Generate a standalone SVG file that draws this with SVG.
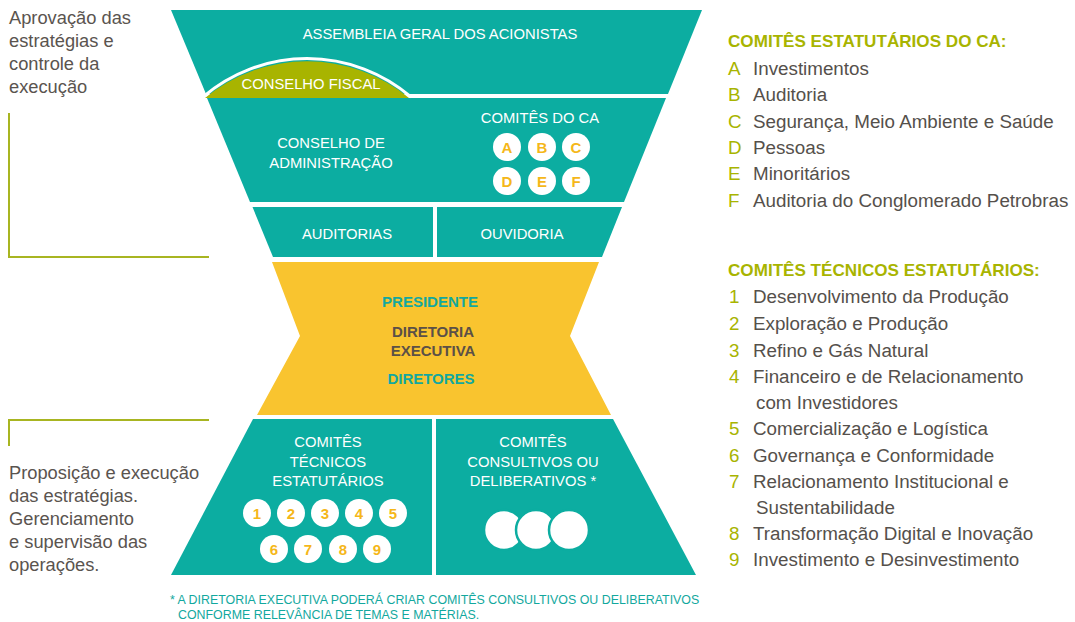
<svg xmlns="http://www.w3.org/2000/svg" width="1075" height="622" viewBox="0 0 1075 622">
<style>
text{font-family:"Liberation Sans",Arial,sans-serif;}
.sec{fill:#0cada1;}
.lbl{fill:#ffffff;font-size:14.8px;text-anchor:middle;}
.ybold{font-weight:bold;font-size:15px;text-anchor:middle;}
.chip{fill:#ffffff;}
.chipt{fill:#f5b719;font-weight:bold;font-size:15px;text-anchor:middle;}
.side{fill:#5a544f;font-size:18.3px;}
.hdr{fill:#a8b400;font-weight:bold;font-size:17.1px;}
.key{fill:#a8b400;font-size:18.8px;}
.item{fill:#55504b;font-size:18.8px;}
.br{fill:none;stroke:#a8b521;stroke-width:2;}
.big{fill:#ffffff;stroke:#0cada1;stroke-width:2.5;}
</style>
<g id="side-notes">
<text class="side" x="9" y="24">Aprovação das</text>
<text class="side" x="9" y="47">estratégias e</text>
<text class="side" x="9" y="70">controle da</text>
<text class="side" x="9" y="93">execução</text>
<text class="side" x="9" y="479">Proposição e execução</text>
<text class="side" x="9" y="502">das estratégias.</text>
<text class="side" x="9" y="525">Gerenciamento</text>
<text class="side" x="9" y="548">e supervisão das</text>
<text class="side" x="9" y="571">operações.</text>
</g>
<g id="connectors">
<polyline class="br" points="9,113 9,257 209,257"/>
<polyline class="br" points="209,420 9,420 9,446"/>
</g>
<g id="assembleia">
<polygon class="sec" points="171,10 702,10 668,94 206,94"/>
<text class="lbl" x="440" y="39">ASSEMBLEIA GERAL DOS ACIONISTAS</text>
</g>
<g id="conselho-administracao">
<polygon class="sec" points="207,98 666,98 624,202 250,202"/>
<text class="lbl" x="331" y="148">CONSELHO DE</text>
<text class="lbl" x="331" y="168">ADMINISTRAÇÃO</text>
</g>
<g id="conselho-fiscal">
<path d="M205,98 A160,160 0 0 1 409,98 Z" fill="#a8b400"/>
<path d="M203,97 A160,160 0 0 1 411,97" fill="none" stroke="#ffffff" stroke-width="3"/>
<text class="lbl" x="311" y="89">CONSELHO FISCAL</text>
</g>
<g id="comites-ca">
<text class="lbl" x="540" y="123">COMITÊS DO CA</text>
<circle class="chip" cx="507" cy="147" r="14"/><text class="chipt" x="507" y="152.5">A</text>
<circle class="chip" cx="542" cy="147" r="14"/><text class="chipt" x="542" y="152.5">B</text>
<circle class="chip" cx="576" cy="147" r="14"/><text class="chipt" x="576" y="152.5">C</text>
<circle class="chip" cx="507" cy="181" r="14"/><text class="chipt" x="507" y="186.5">D</text>
<circle class="chip" cx="542" cy="181" r="14"/><text class="chipt" x="542" y="186.5">E</text>
<circle class="chip" cx="576" cy="181" r="14"/><text class="chipt" x="576" y="186.5">F</text>
</g>
<g id="auditorias">
<polygon class="sec" points="252.5,207 433,207 433,257 273,257"/>
<text class="lbl" x="347" y="239">AUDITORIAS</text>
</g>
<g id="ouvidoria">
<polygon class="sec" points="437,207 622,207 602,257 437,257"/>
<text class="lbl" x="522" y="239">OUVIDORIA</text>
</g>
<g id="diretoria-executiva">
<polygon fill="#f9c42f" points="272,262 599,262 570,336 611,415 257,415 300,336"/>
<text class="ybold" x="430" y="307" fill="#13a89e">PRESIDENTE</text>
<text class="ybold" x="433" y="337" fill="#5b5047">DIRETORIA</text>
<text class="ybold" x="433" y="356" fill="#5b5047">EXECUTIVA</text>
<text class="ybold" x="431" y="384" fill="#13a89e">DIRETORES</text>
</g>
<g id="comites-tecnicos">
<polygon class="sec" points="253,419 432,419 432,575 171,575"/>
<text class="lbl" x="328" y="447">COMITÊS</text>
<text class="lbl" x="328" y="467">TÉCNICOS</text>
<text class="lbl" x="328" y="486">ESTATUTÁRIOS</text>
<circle class="chip" cx="257" cy="513" r="14"/><text class="chipt" x="257" y="518.5">1</text>
<circle class="chip" cx="291" cy="513" r="14"/><text class="chipt" x="291" y="518.5">2</text>
<circle class="chip" cx="325" cy="513" r="14"/><text class="chipt" x="325" y="518.5">3</text>
<circle class="chip" cx="359" cy="513" r="14"/><text class="chipt" x="359" y="518.5">4</text>
<circle class="chip" cx="393" cy="513" r="14"/><text class="chipt" x="393" y="518.5">5</text>
<circle class="chip" cx="274" cy="549" r="14"/><text class="chipt" x="274" y="554.5">6</text>
<circle class="chip" cx="308" cy="549" r="14"/><text class="chipt" x="308" y="554.5">7</text>
<circle class="chip" cx="343" cy="549" r="14"/><text class="chipt" x="343" y="554.5">8</text>
<circle class="chip" cx="377" cy="549" r="14"/><text class="chipt" x="377" y="554.5">9</text>
</g>
<g id="comites-consultivos">
<polygon class="sec" points="436,419 613,419 696,575 436,575"/>
<text class="lbl" x="533" y="447">COMITÊS</text>
<text class="lbl" x="533" y="467">CONSULTIVOS OU</text>
<text class="lbl" x="533" y="486">DELIBERATIVOS *</text>
<circle class="big" cx="504" cy="530" r="20"/>
<circle class="big" cx="536" cy="530" r="20"/>
<circle class="big" cx="569" cy="530" r="20"/>
</g>
<g id="footnote">
<text x="170" y="604" fill="#13a89e" font-size="12.4">* A DIRETORIA EXECUTIVA PODERÁ CRIAR COMITÊS CONSULTIVOS OU DELIBERATIVOS</text>
<text x="178" y="619" fill="#13a89e" font-size="12.4">CONFORME RELEVÂNCIA DE TEMAS E MATÉRIAS.</text>
</g>
<g id="legenda-ca">
<text class="hdr" x="728" y="47">COMITÊS ESTATUTÁRIOS DO CA:</text>
<text class="key" x="728" y="75">A</text><text class="item" x="753" y="75">Investimentos</text>
<text class="key" x="728" y="101">B</text><text class="item" x="753" y="101">Auditoria</text>
<text class="key" x="728" y="128">C</text><text class="item" x="753" y="128">Segurança, Meio Ambiente e Saúde</text>
<text class="key" x="728" y="154">D</text><text class="item" x="753" y="154">Pessoas</text>
<text class="key" x="728" y="180">E</text><text class="item" x="753" y="180">Minoritários</text>
<text class="key" x="728" y="207">F</text><text class="item" x="753" y="207">Auditoria do Conglomerado Petrobras</text>
</g>
<g id="legenda-tecnicos">
<text class="hdr" x="728" y="276">COMITÊS TÉCNICOS ESTATUTÁRIOS:</text>
<text class="key" x="729" y="303">1</text><text class="item" x="753" y="303">Desenvolvimento da Produção</text>
<text class="key" x="729" y="330">2</text><text class="item" x="753" y="330">Exploração e Produção</text>
<text class="key" x="729" y="357">3</text><text class="item" x="753" y="357">Refino e Gás Natural</text>
<text class="key" x="729" y="383">4</text><text class="item" x="753" y="383">Financeiro e de Relacionamento</text>
<text class="item" x="756" y="409">com Investidores</text>
<text class="key" x="729" y="435">5</text><text class="item" x="753" y="435">Comercialização e Logística</text>
<text class="key" x="729" y="462">6</text><text class="item" x="753" y="462">Governança e Conformidade</text>
<text class="key" x="729" y="488">7</text><text class="item" x="753" y="488">Relacionamento Institucional e</text>
<text class="item" x="756" y="514">Sustentabilidade</text>
<text class="key" x="729" y="540">8</text><text class="item" x="753" y="540">Transformação Digital e Inovação</text>
<text class="key" x="729" y="566">9</text><text class="item" x="753" y="566">Investimento e Desinvestimento</text>
</g>
</svg>
